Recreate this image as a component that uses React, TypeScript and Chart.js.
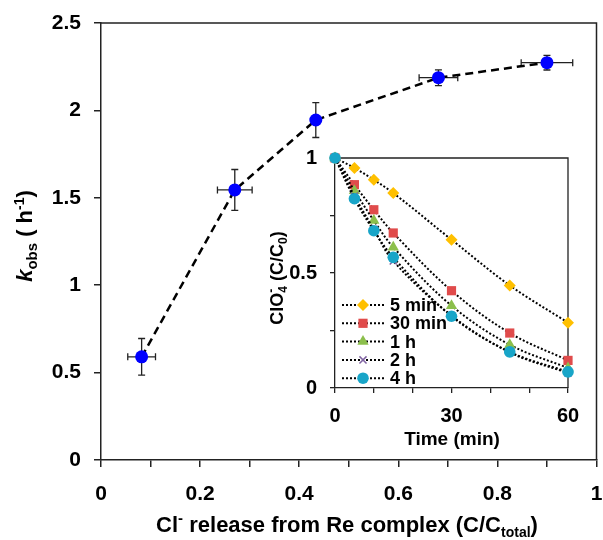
import React, { useEffect, useRef } from 'react';
import { Chart, registerables } from 'chart.js';
import { drawPoint } from 'chart.js/helpers';

Chart.register(...registerables);

const FONT = '"Liberation Sans", Arial, Helvetica, sans-serif';

// ---- main chart data ----
const clRelease = [0.082, 0.27, 0.4335, 0.681, 0.9];
const clReleaseErr = [0.028, 0.035, 0, 0.039, 0.052];
const kobs = [0.59, 1.545, 1.945, 2.187, 2.273];
const kobsErr = [0.105, 0.117, 0.1, 0.045, 0.042];

// ---- inset data ----
const timeMin = [0, 5, 10, 15, 30, 45, 60];
const seriesNames = ['5 min', '30 min', '1 h', '2 h', '4 h'];
const s5min = [1, 0.957, 0.905, 0.848, 0.645, 0.446, 0.284];
const s30min = [1, 0.884, 0.775, 0.674, 0.423, 0.239, 0.12];
const s1h = [1, 0.858, 0.728, 0.612, 0.358, 0.188, 0.087];
const s2h = [1, 0.835, 0.69, 0.552, 0.315, 0.155, 0.065];
const s4h = [1, 0.823, 0.684, 0.568, 0.312, 0.157, 0.07];
const seriesValues = [s5min, s30min, s1h, s2h, s4h];

const seriesColors = ['#FFC000', '#E04B4B', '#8CBF4C', '#8064A2', '#18A5C8'];
const seriesStyles = ['rectRot', 'rect', 'triangle', 'crossRot', 'circle'];
const seriesRadius = [6, 6.5, 6.5, 5, 5.8];

type Seg = { t: string; size: number; dy?: number; italic?: boolean; stack?: boolean };

function drawRich(ctx: CanvasRenderingContext2D, segs: Seg[], cx: number, cy: number, rot: number, mainSize: number) {
  ctx.save();
  ctx.translate(cx, cy);
  ctx.rotate(rot);
  ctx.fillStyle = '#000';
  ctx.textBaseline = 'alphabetic';
  ctx.textAlign = 'left';
  const fontOf = (s: Seg) => `${s.italic ? 'italic ' : ''}bold ${s.size}px ${FONT}`;
  const widths = segs.map((s) => {
    ctx.font = fontOf(s);
    return ctx.measureText(s.t).width;
  });
  const xs: number[] = [];
  let x = 0;
  let prevX = 0;
  let prevW = 0;
  segs.forEach((s, i) => {
    if (s.stack) {
      xs.push(prevX);
      const adv = Math.max(prevW, widths[i]);
      x = prevX + adv;
      prevW = adv;
    } else {
      xs.push(x);
      prevX = x;
      prevW = widths[i];
      x += widths[i];
    }
  });
  const total = x;
  const base = mainSize * 0.36;
  segs.forEach((s, i) => {
    ctx.font = fontOf(s);
    ctx.fillText(s.t, xs[i] - total / 2, base + (s.dy || 0));
  });
  ctx.restore();
}

const errorBarsPlugin = {
  id: 'errorBars',
  beforeDatasetsDraw(chart: any) {
    const { ctx, scales } = chart;
    const xs = scales.x;
    const ys = scales.y;
    const cap = 3.5;
    ctx.save();
    ctx.strokeStyle = '#222';
    ctx.lineWidth = 1.3;
    ctx.setLineDash([]);
    clRelease.forEach((xv, i) => {
      const px = xs.getPixelForValue(xv);
      const py = ys.getPixelForValue(kobs[i]);
      if (kobsErr[i] > 0) {
        const y1 = ys.getPixelForValue(kobs[i] + kobsErr[i]);
        const y2 = ys.getPixelForValue(kobs[i] - kobsErr[i]);
        ctx.beginPath();
        ctx.moveTo(px, y1);
        ctx.lineTo(px, y2);
        ctx.moveTo(px - cap, y1);
        ctx.lineTo(px + cap, y1);
        ctx.moveTo(px - cap, y2);
        ctx.lineTo(px + cap, y2);
        ctx.stroke();
      }
      if (clReleaseErr[i] > 0) {
        const x1 = xs.getPixelForValue(xv - clReleaseErr[i]);
        const x2 = xs.getPixelForValue(xv + clReleaseErr[i]);
        ctx.beginPath();
        ctx.moveTo(x1, py);
        ctx.lineTo(x2, py);
        ctx.moveTo(x1, py - cap);
        ctx.lineTo(x1, py + cap);
        ctx.moveTo(x2, py - cap);
        ctx.lineTo(x2, py + cap);
        ctx.stroke();
      }
    });
    ctx.restore();
  },
};

const framePlugin = {
  id: 'frame',
  beforeDatasetsDraw(chart: any) {
    const { ctx, chartArea } = chart;
    ctx.save();
    ctx.strokeStyle = '#222';
    ctx.lineWidth = 1.5;
    ctx.setLineDash([]);
    ctx.beginPath();
    ctx.moveTo(chartArea.left, chartArea.top);
    ctx.lineTo(chartArea.right, chartArea.top);
    ctx.lineTo(chartArea.right, chartArea.bottom);
    ctx.stroke();
    ctx.restore();
  },
};

const mainTitlesPlugin = {
  id: 'mainTitles',
  afterDraw(chart: any) {
    const { ctx } = chart;
    drawRich(
      ctx,
      [
        { t: 'k', size: 22, italic: true },
        { t: 'obs', size: 15, dy: 5 },
        { t: ' ( h', size: 22 },
        { t: '-1', size: 14, dy: -8 },
        { t: ')', size: 22 },
      ],
      24,
      236,
      -Math.PI / 2,
      22
    );
    drawRich(
      ctx,
      [
        { t: 'Cl', size: 22 },
        { t: '-', size: 15, dy: -9 },
        { t: ' release from Re complex (C/C', size: 22 },
        { t: 'total', size: 14, dy: 5 },
        { t: ')', size: 22 },
      ],
      347,
      524,
      0,
      22
    );
  },
};

const INSET_LEFT = 265;
const INSET_TOP = 140;

const insetPlugin = {
  id: 'insetExtras',
  afterDatasetsDraw(chart: any) {
    const { ctx } = chart;
    ctx.save();
    seriesNames.forEach((name, i) => {
      const y = 165 + i * 18.3;
      ctx.strokeStyle = '#000';
      ctx.lineWidth = 2;
      ctx.setLineDash([2, 2]);
      ctx.beginPath();
      ctx.moveTo(77, y);
      ctx.lineTo(119, y);
      ctx.stroke();
      ctx.setLineDash([]);
      ctx.fillStyle = seriesColors[i];
      ctx.strokeStyle = seriesColors[i];
      ctx.lineWidth = 1.5;
      drawPoint(
        ctx,
        { pointStyle: seriesStyles[i] as any, rotation: 0, radius: seriesRadius[i], borderWidth: i === 3 ? 1.5 : 0 } as any,
        98,
        y
      );
      ctx.fillStyle = '#000';
      ctx.font = `bold 18px ${FONT}`;
      ctx.textBaseline = 'middle';
      ctx.textAlign = 'left';
      ctx.fillText(name, 125, y + 1);
    });
    ctx.restore();
  },
  afterDraw(chart: any) {
    const { ctx } = chart;
    ctx.save();
    ctx.fillStyle = '#000';
    ctx.font = `bold 19px ${FONT}`;
    ctx.textAlign = 'center';
    ctx.textBaseline = 'middle';
    ctx.fillText('Time (min)', 187, 300);
    ctx.restore();
    drawRich(
      ctx,
      [
        { t: 'ClO', size: 18 },
        { t: '4', size: 12, dy: 4 },
        { t: '-', size: 12, dy: -8, stack: true },
        { t: ' (C/C', size: 18 },
        { t: '0', size: 12, dy: 4 },
        { t: ')', size: 18 },
      ],
      12,
      138,
      -Math.PI / 2,
      18
    );
  },
};

const insetFramePlugin = {
  id: 'insetFrame',
  beforeDatasetsDraw(chart: any) {
    const { ctx, chartArea } = chart;
    ctx.save();
    ctx.strokeStyle = '#222';
    ctx.lineWidth = 1.3;
    ctx.setLineDash([]);
    ctx.beginPath();
    ctx.moveTo(chartArea.left, chartArea.top);
    ctx.lineTo(chartArea.right, chartArea.top);
    ctx.lineTo(chartArea.right, chartArea.bottom);
    ctx.stroke();
    ctx.restore();
  },
};

function fixX(h: number) {
  return (s: any) => {
    s.height = h;
    s.paddingLeft = 0;
    s.paddingRight = 0;
  };
}
function fixY(w: number) {
  return (s: any) => {
    s.width = w;
    s.paddingTop = 0;
    s.paddingBottom = 0;
  };
}

export default function App() {
  const mainRef = useRef<HTMLCanvasElement | null>(null);
  const insetRef = useRef<HTMLCanvasElement | null>(null);

  useEffect(() => {
    if (!mainRef.current || !insetRef.current) return;
    const tickFont = { family: FONT, size: 21, weight: 'bold' as const };
    const insetTickFont = { family: FONT, size: 20, weight: 'bold' as const };

    const main = new Chart(mainRef.current, {
      type: 'scatter',
      data: {
        datasets: [
          {
            data: clRelease.map((x, i) => ({ x, y: kobs[i] })),
            showLine: true,
            borderColor: '#000',
            borderWidth: 2.5,
            borderDash: [8, 5],
            pointRadius: 6.5,
            pointBackgroundColor: '#0000FF',
            pointBorderColor: '#0000FF',
            pointBorderWidth: 0,
            tension: 0,
            clip: false as any,
          },
        ],
      },
      options: {
        animation: false,
        responsive: false,
        events: [],
        plugins: { legend: { display: false }, tooltip: { enabled: false } },
        layout: { padding: { top: 23, right: 6, left: 0, bottom: 0 } },
        scales: {
          x: {
            type: 'linear',
            min: 0,
            max: 1,
            afterFit: fixX(80),
            grid: { drawOnChartArea: false, drawTicks: true, tickLength: 7, color: '#222', lineWidth: 1.5 },
            border: { color: '#222', width: 1.5 },
            ticks: {
              stepSize: 0.1,
              autoSkip: false,
              maxRotation: 0,
              padding: 15,
              color: '#000',
              font: tickFont,
              callback: (v: any) => (Math.round(v * 10) % 2 === 0 ? String(Math.round(v * 10) / 10) : ''),
            },
          },
          y: {
            type: 'linear',
            min: 0,
            max: 2.5,
            afterFit: fixY(101),
            grid: { drawOnChartArea: false, drawTicks: true, tickLength: 7, color: '#222', lineWidth: 1.5 },
            border: { color: '#222', width: 1.5 },
            ticks: {
              stepSize: 0.5,
              autoSkip: false,
              padding: 13,
              color: '#000',
              font: tickFont,
              callback: (v: any) => String(Math.round(v * 10) / 10),
            },
          },
        },
      },
      plugins: [errorBarsPlugin, framePlugin, mainTitlesPlugin],
    } as any);

    const inset = new Chart(insetRef.current, {
      type: 'scatter',
      data: {
        datasets: seriesNames.map((name, i) => ({
          label: name,
          data: timeMin.map((t, j) => ({ x: t, y: seriesValues[i][j] })),
          showLine: true,
          borderColor: '#000',
          borderWidth: 2,
          borderDash: [2, 2],
          tension: 0.35,
          pointStyle: seriesStyles[i],
          pointRadius: seriesRadius[i],
          pointBackgroundColor: seriesColors[i],
          pointBorderColor: seriesColors[i],
          pointBorderWidth: i === 3 ? 1.5 : 0,
          clip: false as any,
          order: 5 - i,
        })),
      },
      options: {
        animation: false,
        responsive: false,
        events: [],
        plugins: { legend: { display: false }, tooltip: { enabled: false } },
        layout: { padding: { top: 18, right: 17, left: 0, bottom: 0 } },
        scales: {
          x: {
            type: 'linear',
            min: 0,
            max: 60,
            afterFit: fixX(72),
            grid: { drawOnChartArea: false, drawTicks: true, tickLength: 5, color: '#222', lineWidth: 1.3 },
            border: { color: '#222', width: 1.3 },
            ticks: {
              stepSize: 10,
              autoSkip: false,
              maxRotation: 0,
              padding: 11,
              color: '#000',
              font: insetTickFont,
              callback: (v: any) => (Math.round(v) % 30 === 0 ? String(Math.round(v)) : ''),
            },
          },
          y: {
            type: 'linear',
            min: 0,
            max: 1,
            afterFit: fixY(70),
            grid: { drawOnChartArea: false, drawTicks: true, tickLength: 5, color: '#222', lineWidth: 1.3 },
            border: { color: '#222', width: 1.3 },
            ticks: {
              stepSize: 0.25,
              autoSkip: false,
              padding: 13,
              color: '#000',
              font: insetTickFont,
              callback: (v: any) => (Math.round(v * 100) % 50 === 0 ? String(Math.round(v * 100) / 100) : ''),
            },
          },
        },
      },
      plugins: [insetFramePlugin, insetPlugin],
    } as any);

    return () => {
      main.destroy();
      inset.destroy();
    };
  }, []);

  return (
    <div style={{ position: 'absolute', left: 0, top: 0, width: 603, height: 540, background: '#fff' }}>
      <canvas ref={mainRef} width={603} height={540} style={{ position: 'absolute', left: 0, top: 0 }} />
      <canvas
        ref={insetRef}
        width={320}
        height={320}
        style={{ position: 'absolute', left: INSET_LEFT, top: INSET_TOP }}
      />
    </div>
  );
}
